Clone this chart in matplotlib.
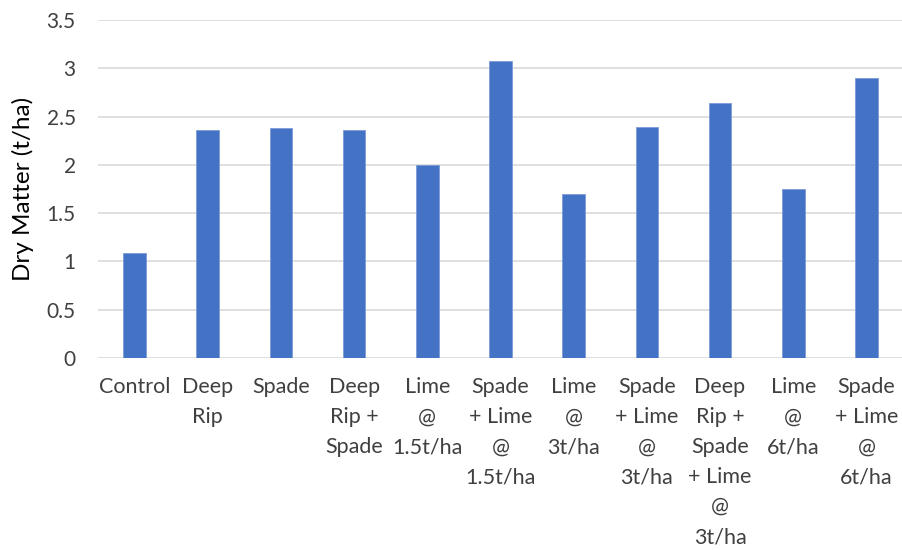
import matplotlib
matplotlib.use("Agg")
import matplotlib.pyplot as plt

categories = ["Control", "Deep\nRip", "Spade", "Deep\nRip +\nSpade", "Lime\n@\n1.5t/ha",
              "Spade\n+ Lime\n@\n1.5t/ha", "Lime\n@\n3t/ha", "Spade\n+ Lime\n@\n3t/ha",
              "Deep\nRip +\nSpade\n+ Lime\n@\n3t/ha", "Lime\n@\n6t/ha", "Spade\n+ Lime\n@\n6t/ha"]
values = [1.09, 2.36, 2.38, 2.36, 2.0, 3.08, 1.70, 2.39, 2.64, 1.75, 2.90]
yticks = [0, 0.5, 1, 1.5, 2, 2.5, 3, 3.5]
ytick_labels = ["0", "0.5", "1", "1.5", "2", "2.5", "3", "3.5"]

plt.rcParams['font.family'] = ['Lato', 'DejaVu Sans']

fig = plt.figure(figsize=(9.03, 5.5), dpi=100)
ax = fig.add_axes([98/903, 192/550, 805/903, 338/550])

x = list(range(len(categories)))
ax.bar(x, values, width=0.31, color="#4472C4", edgecolor="#7C9BD6", linewidth=0.6, zorder=3)

ax.set_xlim(-0.5, len(categories) - 0.5)
ax.set_ylim(0, 3.5)
ax.set_yticks(yticks)
ax.set_yticklabels(ytick_labels, fontsize=15)
ax.set_xticks(x)
ax.set_xticklabels(categories, linespacing=1.62, va="top", fontsize=15.5)
ax.grid(axis="y", color="#D9D9D9", linewidth=1.2, zorder=0)
for s in ax.spines.values():
    s.set_visible(False)
ax.tick_params(axis="both", length=0, colors="#404040")
ax.tick_params(axis="y", pad=16)
ax.tick_params(axis="x", pad=14)
ax.set_ylabel("Dry Matter (t/ha)", fontsize=17.5, color="#000000", labelpad=9)

fig.savefig("out.png", dpi=100)
